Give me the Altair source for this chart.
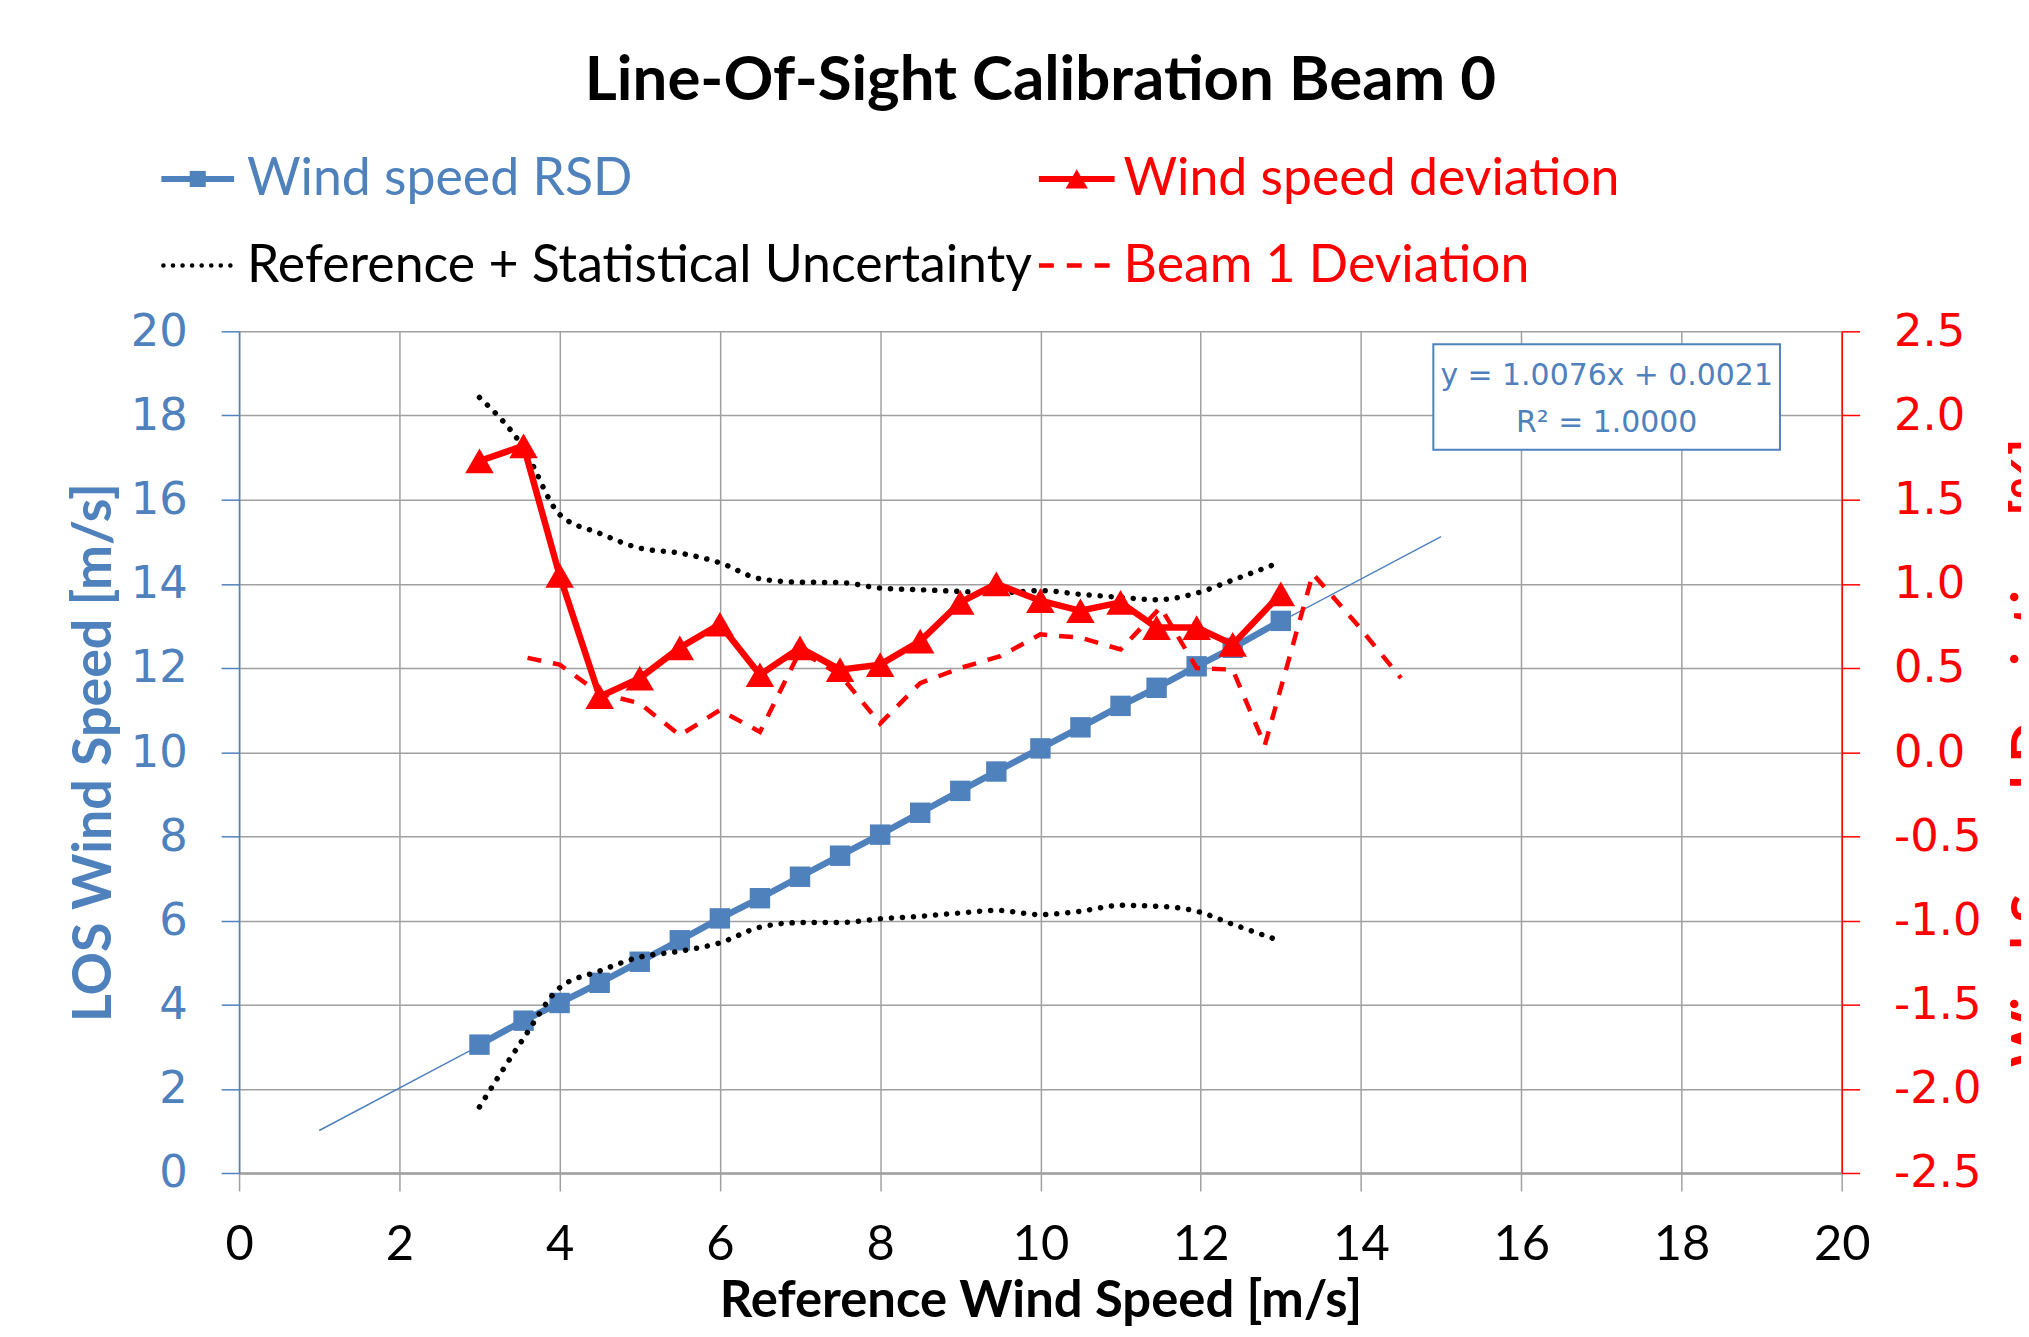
import altair as alt
import pandas as pd

# ---------------- data ----------------
REF_X = [3.0, 3.55, 4.0, 4.5, 5.0, 5.5, 6.0, 6.5, 7.0, 7.5, 8.0, 8.5, 9.0, 9.45,
         10.0, 10.5, 11.0, 11.45, 11.95, 12.4, 13.0]
RSD = [3.05, 3.62, 4.04, 4.52, 5.02, 5.53, 6.05, 6.53, 7.04, 7.54, 8.04, 8.56, 9.08,
       9.54, 10.09, 10.59, 11.10, 11.53, 12.04, 12.48, 13.12]
DEVIATION = [1.73, 1.82, 1.05, 0.33, 0.44, 0.62, 0.76, 0.46, 0.62, 0.49, 0.52, 0.66,
             0.89, 1.00, 0.90, 0.84, 0.89, 0.74, 0.74, 0.64, 0.94]
UNC_UPPER = [18.43, 17.23, 15.65, 15.20, 14.85, 14.73, 14.50, 14.12, 14.04, 14.03,
             13.90, 13.86, 13.82, 13.78, 13.84, 13.75, 13.68, 13.62, 13.78, 14.09, 14.52]
UNC_LOWER = [1.57, 3.20, 4.40, 4.80, 5.13, 5.27, 5.47, 5.84, 5.95, 5.95, 6.04, 6.10,
             6.18, 6.24, 6.14, 6.22, 6.36, 6.34, 6.22, 5.91, 5.51]
BEAM1_X = [3.6, 4.0, 4.5, 5.0, 5.5, 6.0, 6.5, 7.0, 7.5, 8.0, 8.5, 9.0, 9.5, 10.0,
           10.5, 11.0, 11.5, 11.95, 12.4, 12.8, 13.4, 13.95, 14.5]
BEAM1_DEV = [0.56, 0.52, 0.35, 0.29, 0.10, 0.25, 0.12, 0.60, 0.46, 0.17, 0.41, 0.50,
             0.57, 0.70, 0.68, 0.61, 0.86, 0.50, 0.49, 0.04, 1.06, 0.76, 0.44]
TREND_X = [1.0, 15.0]
TREND_Y = [1.01, 15.12]

X_TICKS = list(range(0, 21, 2))
YL_TICKS = list(range(0, 21, 2))
YR_TICKS = [-2.5, -2.0, -1.5, -1.0, -0.5, 0.0, 0.5, 1.0, 1.5, 2.0, 2.5]

TITLE = "Line-Of-Sight Calibration Beam 0"
X_TITLE = "Reference Wind Speed [m/s]"
YL_TITLE = "LOS Wind Speed [m/s]"
YR_TITLE = "Wind Speed Deviation [%]"
LEGEND_LABELS = ["Wind speed RSD", "Wind speed deviation",
                 "Reference + Statistical Uncertainty", "Beam 1 Deviation"]
EQUATION_LINES = ["y = 1.0076x + 0.0021", "R\u00b2 = 1.0000"]

# ---------------- styles ----------------
BLUE = "#4F81BD"
RED = "#FF0000"
GRID = "#A0A0A0"
W, H = 1609, 845

x_axis = alt.Axis(values=X_TICKS, title=X_TITLE, labelFont="Lato", labelFontSize=49,
                  labelColor="black", labelPadding=30, labelFlush=False,
                  tickSize=18, tickColor=GRID, tickWidth=1.5,
                  domainColor=GRID, domainWidth=2.5, grid=True, gridColor=GRID,
                  gridWidth=1.5, titleFont="Lato", titleFontSize=51,
                  titleFontWeight="bold", titleColor="black", titlePadding=7)
yl_axis = alt.Axis(values=YL_TICKS, title=YL_TITLE, orient="left",
                   labelFont="DejaVu Sans", labelFontSize=45, labelColor=BLUE,
                   labelPadding=34, labelFlush=False, tickSize=18, tickColor=BLUE,
                   tickWidth=1.5, domainColor=BLUE, domainWidth=1.5, grid=True,
                   gridColor=GRID, gridWidth=1.5, titleFont="Lato", titleFontSize=54,
                   titleFontWeight="bold", titleColor=BLUE, titlePadding=9)
yr_axis = alt.Axis(values=YR_TICKS, title=YR_TITLE, orient="right",
                   labelExpr="(datum.value < 0 ? '-' : '') + format(abs(datum.value), '.1f')",
                   labelFont="DejaVu Sans", labelFontSize=45, labelColor=RED,
                   labelPadding=34, labelFlush=False, tickSize=18, tickColor=RED,
                   tickWidth=1.5, domainColor=RED, domainWidth=1.5, grid=False,
                   titleFont="Lato", titleFontSize=54, titleFontWeight="bold",
                   titleColor=RED, titleAngle=270, titleBaseline="top", titlePadding=26)

xs = alt.Scale(domain=[0, 20], nice=False, zero=False)
yls = alt.Scale(domain=[0, 20], nice=False, zero=False)
yrs = alt.Scale(domain=[-2.5, 2.5], nice=False, zero=False)


def X():
    return alt.X("x:Q", scale=xs, axis=x_axis)


def YL():
    return alt.Y("v:Q", scale=yls, axis=yl_axis)


def YR():
    return alt.Y("v:Q", scale=yrs, axis=yr_axis)


trend_df = pd.DataFrame({"x": TREND_X, "v": TREND_Y})
rsd_df = pd.DataFrame({"x": REF_X, "v": RSD})
up_df = pd.DataFrame({"x": REF_X, "v": UNC_UPPER})
lo_df = pd.DataFrame({"x": REF_X, "v": UNC_LOWER})
dev_df = pd.DataFrame({"x": REF_X, "v": DEVIATION})
beam_df = pd.DataFrame({"x": BEAM1_X, "v": BEAM1_DEV})

trend = alt.Chart(trend_df).mark_line(color=BLUE, strokeWidth=1.5).encode(x=X(), y=YL())
dot_style = dict(color="black", strokeWidth=5.5, strokeDash=[0.1, 11], strokeCap="round",
                 interpolate="monotone")
upper = alt.Chart(up_df).mark_line(**dot_style).encode(x=X(), y=YL())
lower = alt.Chart(lo_df).mark_line(**dot_style).encode(x=X(), y=YL())
rsd_line = alt.Chart(rsd_df).mark_line(color=BLUE, strokeWidth=6.5).encode(x=X(), y=YL())
rsd_pts = alt.Chart(rsd_df).mark_point(shape="square", filled=True, color=BLUE, size=420,
                                       opacity=1).encode(x=X(), y=YL())
left = alt.layer(trend, rsd_line, rsd_pts, upper, lower)

beam = alt.Chart(beam_df).mark_line(color=RED, strokeWidth=4.5, strokeDash=[14, 12]).encode(
    x=X(), y=YR())
dev_line = alt.Chart(dev_df).mark_line(color=RED, strokeWidth=6.5).encode(x=X(), y=YR())
dev_pts = alt.Chart(dev_df).mark_point(shape="triangle-up", filled=True, color=RED, size=820,
                                       opacity=1).encode(x=X(), y=YR())
right = alt.layer(beam, dev_line, dev_pts)

# ---------------- trendline equation box ----------------
eq_df = pd.DataFrame({"t": EQUATION_LINES})
box = alt.Chart(pd.DataFrame({"t": [""]})).mark_rect(fill="white", stroke=BLUE,
                                                     strokeWidth=2).encode(
    x=alt.value(1199), x2=alt.value(1547), y=alt.value(13), y2=alt.value(119))
eq1 = alt.Chart(eq_df.iloc[[0]]).mark_text(font="DejaVu Sans", fontSize=30, color=BLUE,
                                            align="center", baseline="middle").encode(
    x=alt.value(1373), y=alt.value(45), text="t:N")
eq2 = alt.Chart(eq_df.iloc[[1]]).mark_text(font="DejaVu Sans", fontSize=30, color=BLUE,
                                            align="center", baseline="middle").encode(
    x=alt.value(1373), y=alt.value(92), text="t:N")

# ---------------- legend (drawn above plot) ----------------
R1, R2 = -153, -66
C1S, C1E, C1T = -78, -5, 8
C2S, C2E, C2T = 803, 879, 888
one = pd.DataFrame({"t": [""]})


def leg_text(i, xpos, ypos, color):
    return alt.Chart(pd.DataFrame({"t": [LEGEND_LABELS[i]]})).mark_text(
        font="Lato", fontSize=52, color=color, align="left", baseline="middle").encode(
        x=alt.value(xpos), y=alt.value(ypos), text="t:N")


leg = [
    alt.Chart(one).mark_rule(color=BLUE, strokeWidth=6).encode(
        x=alt.value(C1S), x2=alt.value(C1E), y=alt.value(R1)),
    alt.Chart(one).mark_point(shape="square", filled=True, color=BLUE, size=260,
                              opacity=1).encode(x=alt.value((C1S + C1E) / 2), y=alt.value(R1)),
    leg_text(0, C1T, R1, BLUE),
    alt.Chart(one).mark_rule(color=RED, strokeWidth=6).encode(
        x=alt.value(C2S), x2=alt.value(C2E), y=alt.value(R1)),
    alt.Chart(one).mark_point(shape="triangle-up", filled=True, color=RED, size=500,
                              opacity=1).encode(x=alt.value((C2S + C2E) / 2), y=alt.value(R1)),
    leg_text(1, C2T, R1, RED),
    alt.Chart(one).mark_rule(color="black", strokeWidth=4.5, strokeDash=[0.1, 9.5],
                             strokeCap="round").encode(
        x=alt.value(C1S + 2), x2=alt.value(C1E - 2), y=alt.value(R2)),
    leg_text(2, C1T, R2, "black"),
    alt.Chart(one).mark_rule(color=RED, strokeWidth=4.5, strokeDash=[15, 13]).encode(
        x=alt.value(C2S), x2=alt.value(C2E), y=alt.value(R2)),
    leg_text(3, C2T, R2, RED),
]

chart = alt.layer(left, right, box, eq1, eq2, *leg).resolve_scale(y="independent").properties(
    width=W, height=H,
    title=alt.TitleParams(TITLE, font="Lato", fontSize=62, fontWeight="bold", color="black",
                          anchor="middle", frame="group", offset=40),
    autosize=alt.AutoSizeParams(type="none"),
    padding={"left": 232, "top": 322, "right": 180, "bottom": 153},
    background="white",
).configure_view(stroke=None)

chart.save("out.html", embed_options={"renderer": "svg", "actions": False})
